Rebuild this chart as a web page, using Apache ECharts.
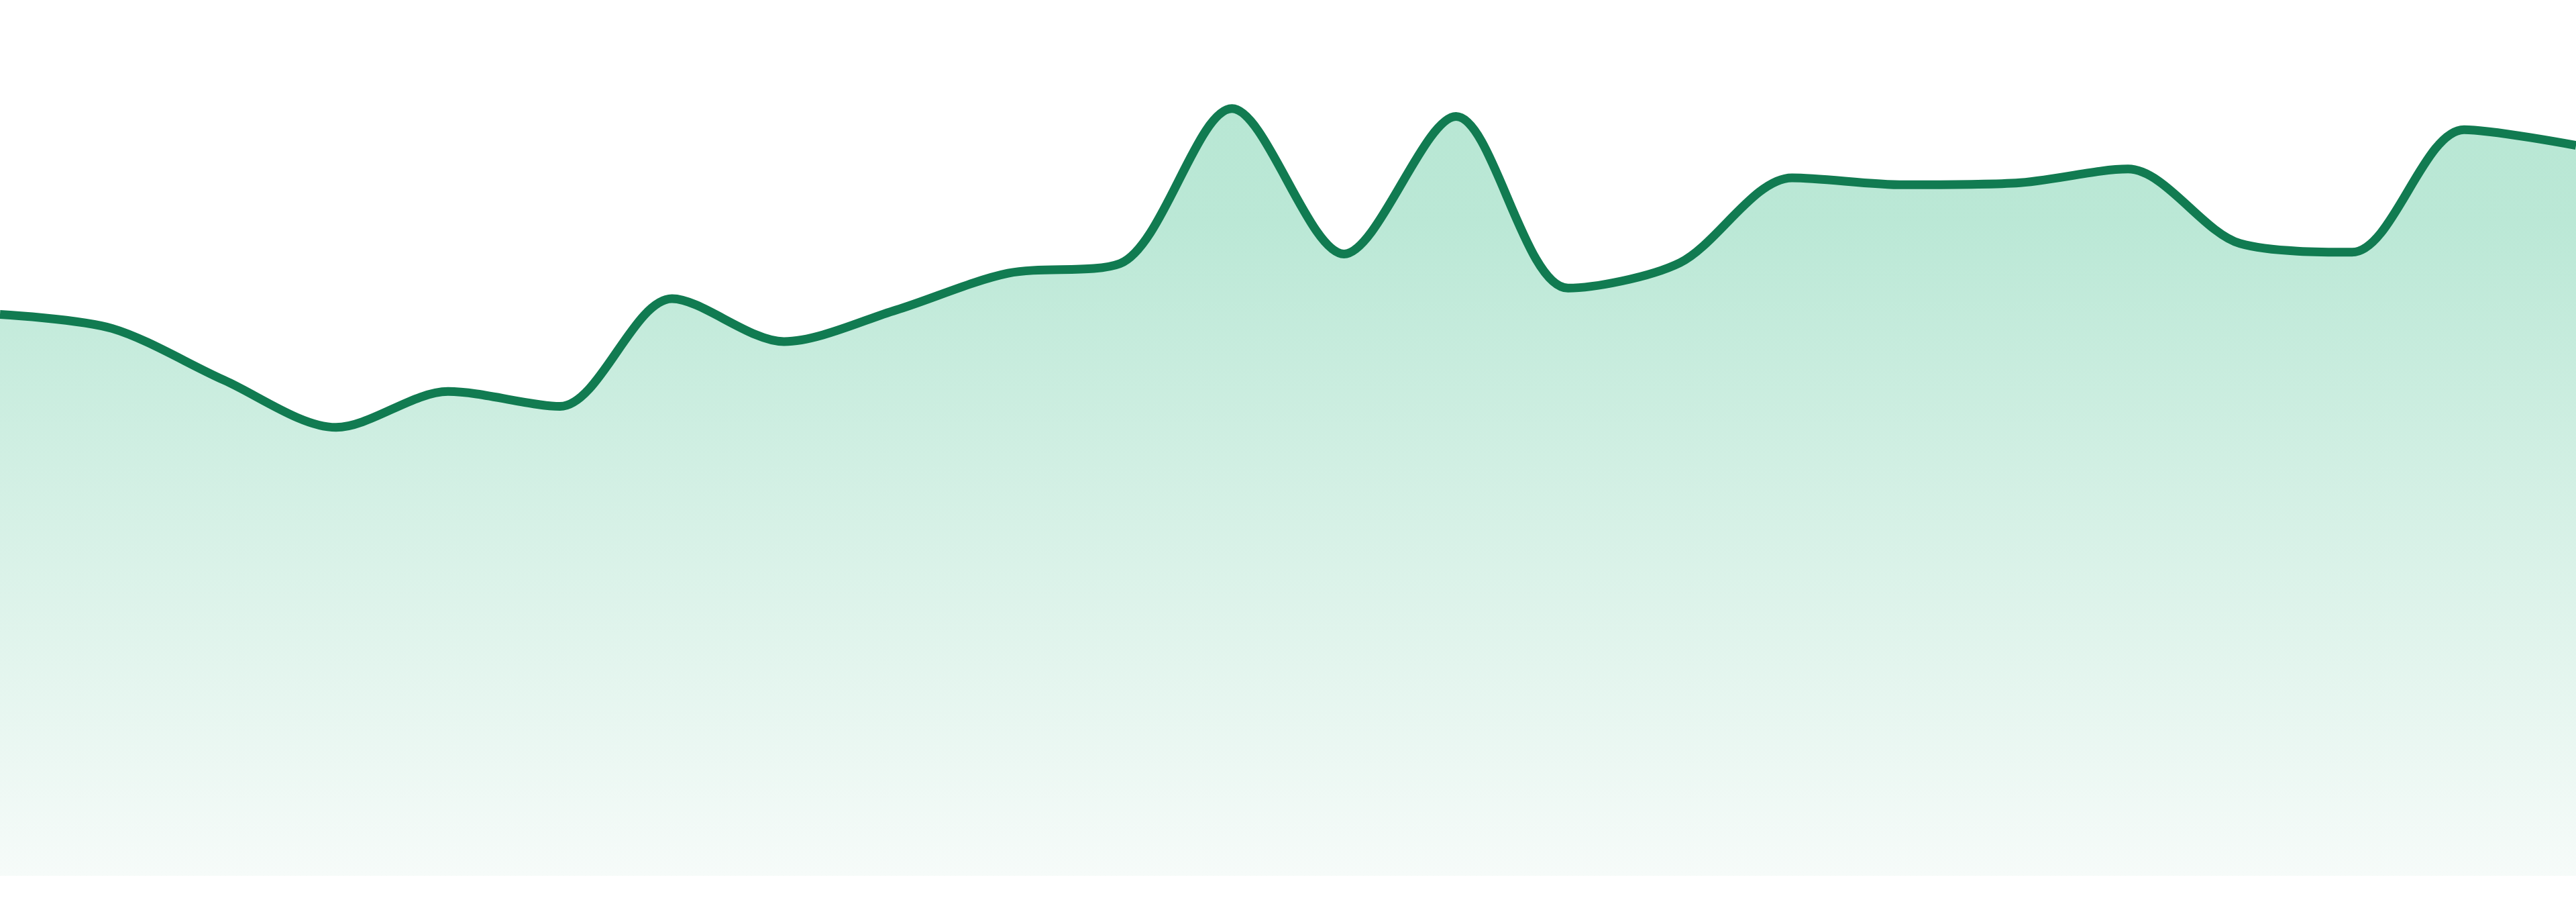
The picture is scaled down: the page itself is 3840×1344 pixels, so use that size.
<!DOCTYPE html>
<html>
<head>
<meta charset="utf-8">
<title>Area line</title>
<script src="https://cdn.jsdelivr.net/npm/echarts@6/dist/echarts.min.js"></script>
<style>
  html, body { margin: 0; padding: 0; background: #fff; }
  #myChart { width: 3840px; height: 1344px; }
</style>
</head>
<body>
<div id="myChart"></div>
<script>
// 数据
var categories = ['01', '02', '03', '04', '05', '06', '07', '08', '09', '10', '11', '12',
  '13', '14', '15', '16', '17', '18', '19', '20', '21', '22', '23', '24'];
var values = [64.1, 62.5, 56.6, 51.2, 55.3, 53.6, 65.9, 61.0, 64.6, 68.8, 69.9, 87.6,
  71.0, 86.7, 67.1, 70.0, 79.7, 78.9, 79.1, 80.7, 72.2, 71.2, 85.2, 83.4];

var myChart = echarts.init(document.getElementById('myChart'));

var option = {
  animation: false,
  grid: {
    left: 0,
    right: 0,
    top: 0,
    bottom: 39
  },
  xAxis: {
    type: 'category',
    data: categories,
    boundaryGap: false,
    show: false
  },
  yAxis: {
    type: 'value',
    min: 0,
    max: 100,
    show: false
  },
  series: [{
    type: 'line',
    data: values,
    smooth: 0.3,
    symbol: 'none',
    lineStyle: {
      color: '#117b51',
      width: 13
    },
    areaStyle: {
      opacity: 1,
      color: new echarts.graphic.LinearGradient(0, 0, 0, 1, [
        { offset: 0, color: '#b8e7d4' },
        { offset: 0.15, color: '#bbe8d6' },
        { offset: 1, color: '#f6fbf9' }
      ])
    }
  }]
};

myChart.setOption(option);
</script>
</body>
</html>
